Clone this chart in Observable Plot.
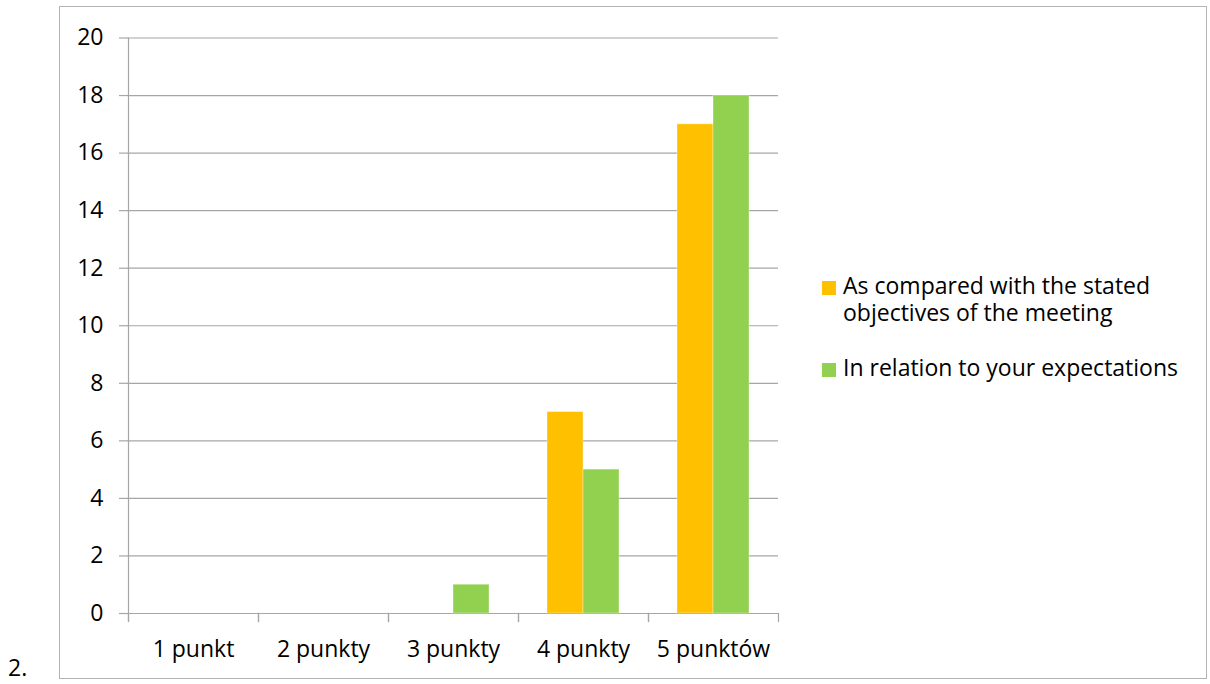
<!DOCTYPE html>
<html>
<head>
<meta charset="utf-8">
<script src="https://cdn.jsdelivr.net/npm/d3@7"></script>
<script src="https://cdn.jsdelivr.net/npm/@observablehq/plot@0.6"></script>
<style>
  html, body { margin: 0; padding: 0; background: #fff; }
  #wrap { position: relative; width: 1210px; height: 684px; font-family: "Open Sans", "Noto Sans", sans-serif; color: #000; }
  #border { position: absolute; left: 59px; top: 6px; width: 1146px; height: 671px; border: 1px solid #b3b3b3; }
  #chart { position: absolute; left: 60px; top: 0; }
  #legend { position: absolute; left: 822px; top: 0; font-size: 23px; line-height: 27px; }
  .item { position: absolute; left: 0; display: flex; align-items: flex-start; width: 385px; }
  .sw { width: 14px; height: 14px; margin-top: 9px; margin-right: 7px; flex: none; }
  .lab { max-width: 360px; white-space: normal; }
  #num { position: absolute; left: 8px; top: 654px; font-size: 23px; line-height: 27px; }
</style>
</head>
<body>
<div id="wrap">
  <div id="border"></div>
  <div id="chart"></div>
  <div id="legend"></div>
  <div id="num">2.</div>
</div>
<script>
const categories = ["1 punkt", "2 punkty", "3 punkty", "4 punkty", "5 punktów"];
const seriesNames = ["As compared with the stated objectives of the meeting", "In relation to your expectations"];
const objectivesValues = [0, 0, 0, 7, 17];
const expectationsValues = [0, 0, 1, 5, 18];
const seriesColors = ["#FFC000", "#92D050"];
const yTicks = [0, 2, 4, 6, 8, 10, 12, 14, 16, 18, 20];

const rows = [];
categories.forEach((c, i) => {
  rows.push({category: c, series: seriesNames[0], value: objectivesValues[i]});
  rows.push({category: c, series: seriesNames[1], value: expectationsValues[i]});
});

const gridColor = "#a6a6a6";
const plotTop = 37.5, plotBottom = 613, H = 684;

const chart = Plot.plot({
  width: 740,
  height: H,
  marginLeft: 67,
  marginRight: 21,
  marginTop: plotTop,
  marginBottom: H - plotBottom,
  style: {fontSize: "23px", fontFamily: "'Open Sans', 'Noto Sans', sans-serif", color: "#000", background: "transparent"},
  fx: {domain: categories, padding: 0, label: null},
  x: {domain: seriesNames, paddingInner: 0, paddingOuter: 0.785, axis: null},
  y: {domain: [0, 20], label: null},
  color: {domain: seriesNames, range: seriesColors},
  marks: [
    Plot.gridY(yTicks, {stroke: gridColor, strokeOpacity: 1, strokeWidth: 1.2}),
    Plot.axisY(yTicks, {anchor: "left", tickSize: 9, tickPadding: 16, stroke: gridColor, strokeWidth: 1.2, label: null, fill: "#000"}),
    Plot.frame({anchor: "left", facetAnchor: "left", insetBottom: -8, stroke: gridColor, strokeWidth: 1.2}),
    Plot.frame({anchor: "left", insetTop: plotBottom - plotTop, insetBottom: -8, stroke: gridColor, strokeWidth: 1.2}),
    Plot.frame({anchor: "right", insetTop: plotBottom - plotTop, insetBottom: -8, stroke: gridColor, strokeWidth: 1.2}),
    Plot.barY(rows, {fx: "category", x: "series", y: "value", fill: "series", stroke: "#fff", strokeOpacity: 0.35, strokeWidth: 1}),
    Plot.axisFx({anchor: "bottom", tickSize: 0, tickPadding: 27, label: null, fill: "#000"})
  ]
});
document.getElementById("chart").appendChild(chart);

const legend = document.getElementById("legend");
const itemTops = [272, 354];
seriesNames.forEach((s, i) => {
  const item = document.createElement("div");
  item.className = "item";
  item.style.top = itemTops[i] + "px";
  const sw = document.createElement("div");
  sw.className = "sw";
  sw.style.background = seriesColors[i];
  const lab = document.createElement("div");
  lab.className = "lab";
  lab.textContent = s;
  item.appendChild(sw);
  item.appendChild(lab);
  legend.appendChild(item);
});
</script>
</body>
</html>
